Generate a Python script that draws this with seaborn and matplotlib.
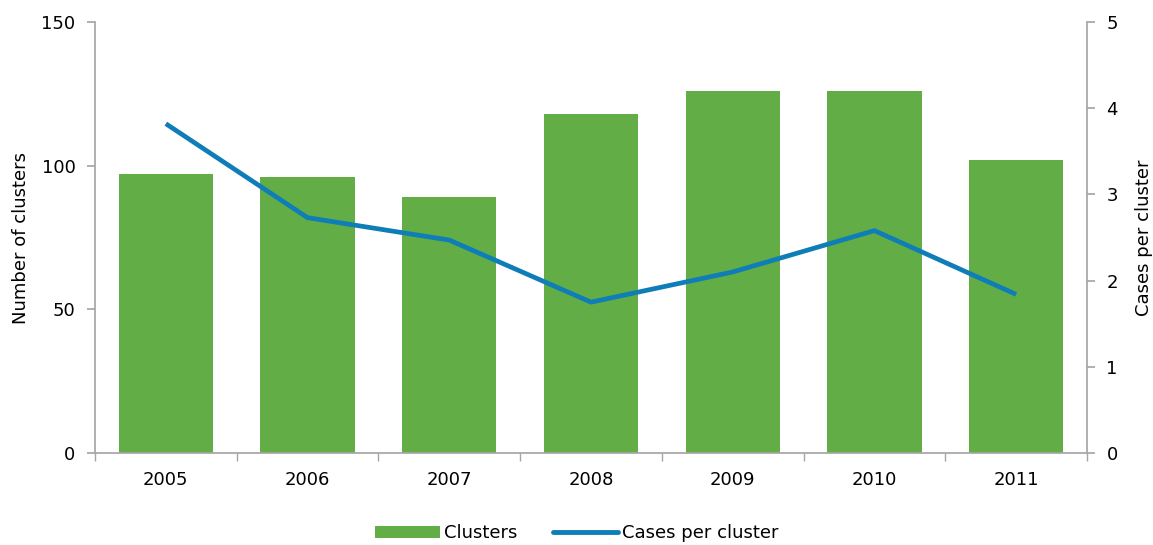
import matplotlib
matplotlib.use("Agg")
import matplotlib.pyplot as plt
import seaborn as sns
import numpy as np
import pandas as pd
from matplotlib.patches import Patch
from matplotlib.lines import Line2D

years = ["2005", "2006", "2007", "2008", "2009", "2010", "2011"]
clusters = [97, 96, 89, 118, 126, 126, 102]
cases_per_cluster = [3.82, 2.73, 2.47, 1.75, 2.10, 2.58, 1.84]

GREEN = "#62AD46"
BLUE = "#0E7DB8"
GRAY = "#A6A6A6"
FS = 13

sns.set_theme(style="white")
plt.rcParams["font.family"] = ["DejaVu Sans"]
plt.rcParams["font.size"] = FS

df = pd.DataFrame({"year": years, "clusters": clusters, "cpc": cases_per_cluster})
df["pos"] = np.arange(len(years))

fig = plt.figure(figsize=(11.53, 5.45), dpi=100)
ax = fig.add_axes([95/1153, 1-453/545, (1087-95)/1153, (453-22)/545])
sns.barplot(data=df, x="year", y="clusters", color=GREEN, saturation=1, width=0.665,
            linewidth=0, edgecolor="none", ax=ax)
ax.set_xlim(-0.5, len(years)-0.5)
ax.set_ylim(0, 150)
ax.set_yticks([0, 50, 100, 150])
ax.set_xlabel("")
ax.set_ylabel("Number of clusters", fontsize=FS, color="black", labelpad=8)

ax2 = ax.twinx()
sns.lineplot(data=df, x="pos", y="cpc", color=BLUE, linewidth=3.4, ax=ax2, solid_capstyle="butt")
ax2.set_ylim(0, 5)
ax2.set_yticks([0, 1, 2, 3, 4, 5])
ax2.set_xlim(-0.5, len(years)-0.5)
ax2.set_ylabel("Cases per cluster", fontsize=FS, color="black", labelpad=12)
ax2.set_xlabel("")

for a in (ax, ax2):
    for s in a.spines.values():
        s.set_visible(False)
ax.spines["left"].set_visible(True)
ax.spines["left"].set_color(GRAY)
ax.spines["bottom"].set_visible(True)
ax.spines["bottom"].set_color(GRAY)
ax2.spines["right"].set_visible(True)
ax2.spines["right"].set_color(GRAY)

ax.tick_params(axis="y", which="major", left=True, length=6, color=GRAY, labelsize=FS, pad=8, labelcolor="black")
ax2.tick_params(axis="y", which="major", right=True, length=6, color=GRAY, labelsize=FS, pad=8, labelcolor="black")
ax.set_xticks(np.arange(len(years)))
ax.set_xticklabels(years)
ax.tick_params(axis="x", which="major", length=0, labelsize=FS, pad=13, labelcolor="black")
ax.set_xticks(np.arange(-0.5, len(years)), minor=True)
ax.tick_params(axis="x", which="minor", bottom=True, length=6, color=GRAY)

handles = [Patch(facecolor=GREEN, edgecolor="none", label="Clusters"),
           Line2D([0], [0], color=BLUE, linewidth=3.5, label="Cases per cluster")]
leg = fig.legend(handles=handles, loc="lower center", bbox_to_anchor=(0.5, -0.025), ncol=2,
                 frameon=False, fontsize=FS, handlelength=3.6, handletextpad=0.2, columnspacing=2.0)
for t in leg.get_texts():
    t.set_color("black")

fig.savefig("out.png", dpi=100)
